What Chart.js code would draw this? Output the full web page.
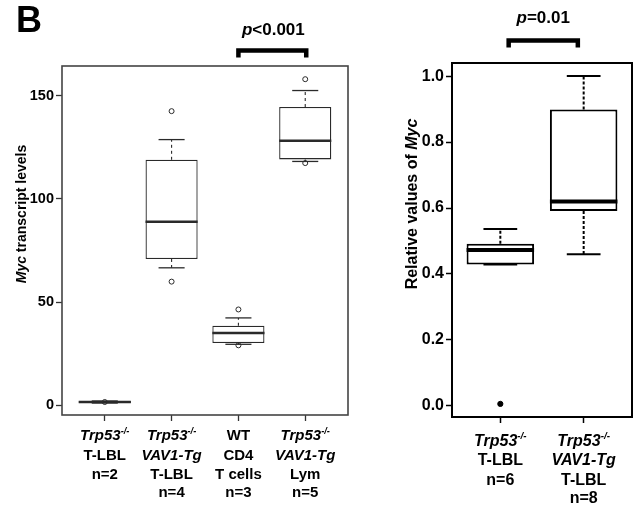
<!DOCTYPE html>
<html><head><meta charset="utf-8">
<script src="https://cdn.jsdelivr.net/npm/chart.js@4.4.1/dist/chart.umd.min.js"></script>
<style>
html,body{margin:0;padding:0;background:#fff;}
#wrap{position:relative;width:637px;height:506px;overflow:hidden;background:#fff;}
canvas{position:absolute;top:0;}
</style></head><body>
<div id="wrap">
<canvas id="c1" width="360" height="506" style="left:0px"></canvas>
<canvas id="c2" width="277" height="506" style="left:360px"></canvas>
</div>
<script>
// ---------- Left panel data (Myc transcript levels) ----------
// markup: _italic_  ^superscript^
const leftCategories = [
  ['_Trp53_^-/-^', 'T-LBL', 'n=2'],
  ['_Trp53_^-/-^', '_VAV1-Tg_', 'T-LBL', 'n=4'],
  ['WT', 'CD4', 'T cells', 'n=3'],
  ['_Trp53_^-/-^', '_VAV1-Tg_', 'Lym', 'n=5']
];
const leftPositions     = [1, 2, 3, 4];
const leftQ1            = [1.0, 70.9, 30.1, 119.2];
const leftMedian        = [1.5, 89.0, 35.0, 128.2];
const leftQ3            = [2.0, 119.0, 38.5, 144.6];
const leftWhiskerLow    = [1.0, 66.6, 29.5, 118.2];
const leftWhiskerHigh   = [2.0, 128.8, 42.3, 152.6];
const leftOutliers      = [[1.5], [142.6, 59.9], [46.4, 29.0], [158.1, 117.4]];
const leftYTicks        = [0, 50, 100, 150];
const leftYTitle        = ['_Myc_', ' transcript levels'];
const leftPText         = ['_p_', '<0.001'];

// ---------- Right panel data (Relative values of Myc) ----------
const rightCategories = [
  ['_Trp53_^-/-^', 'T-LBL', 'n=6'],
  ['_Trp53_^-/-^', '_VAV1-Tg_', 'T-LBL', 'n=8']
];
const rightPositions    = [1, 2];
const rightQ1           = [0.429, 0.591];
const rightMedian       = [0.473, 0.620];
const rightQ3           = [0.492, 0.899];
const rightWhiskerLow   = [0.429, 0.460];
const rightWhiskerHigh  = [0.536, 1.000];
const rightOutliers     = [[0.006], []];
const rightYTicks       = [0, 0.2, 0.4, 0.6, 0.8, 1.0];
const rightYTitle       = ['Relative values of ', '_Myc_'];
const rightPText        = ['_p_', '=0.01'];

const FONT = '"Liberation Sans", Arial, Helvetica, sans-serif';

function parseMarkup(str) {
  const segs = []; let cur = '', it = false, sup = false;
  for (const ch of str) {
    if (ch === '_' || ch === '^') {
      if (cur) segs.push({t: cur, it, sup}); cur = '';
      if (ch === '_') it = !it; else sup = !sup;
    } else cur += ch;
  }
  if (cur) segs.push({t: cur, it, sup});
  return segs;
}
function segFont(s, size) {
  const sz = s.sup ? size * 0.62 : size;
  return (s.it || s.sup ? 'italic ' : '') + 'bold ' + sz + 'px ' + FONT;
}
function drawRich(ctx, parts, cx, y, size, color) {
  let segs = [];
  parts.forEach(p => segs = segs.concat(parseMarkup(p)));
  let total = 0;
  segs.forEach(s => { ctx.font = segFont(s, size); s.w = ctx.measureText(s.t).width; total += s.w; });
  let x = cx - total / 2;
  ctx.fillStyle = color || '#000';
  ctx.textAlign = 'left';
  segs.forEach(s => {
    ctx.font = segFont(s, size);
    const dy = s.sup ? -size * 0.42 : 0;
    ctx.fillText(s.t, x, y + dy);
    x += s.w;
  });
}

function makeBoxPlugin(cfg) {
  return {
    id: 'boxDecor',
    afterDatasetDraw(chart, args) {
      if (args.index !== 0) return;
      const ctx = chart.ctx, xs = chart.scales.x, ys = chart.scales.y;
      const meta = chart.getDatasetMeta(0);
      ctx.save();
      ctx.strokeStyle = cfg.color;
      cfg.pos.forEach((p, i) => {
        const cx = xs.getPixelForValue(p);
        const w = meta.data[i].width;
        // median
        ctx.lineWidth = cfg.medianWidth; ctx.setLineDash([]);
        const ym = ys.getPixelForValue(cfg.median[i]);
        ctx.beginPath(); ctx.moveTo(cx - w / 2, ym); ctx.lineTo(cx + w / 2, ym); ctx.stroke();
        // whiskers (dashed)
        ctx.lineWidth = cfg.whiskerWidth; ctx.setLineDash(cfg.dash);
        const y1 = ys.getPixelForValue(cfg.q1[i]), y3 = ys.getPixelForValue(cfg.q3[i]);
        const yl = ys.getPixelForValue(cfg.wlo[i]), yh = ys.getPixelForValue(cfg.whi[i]);
        ctx.beginPath(); ctx.moveTo(cx, y3); ctx.lineTo(cx, yh); ctx.stroke();
        ctx.beginPath(); ctx.moveTo(cx, y1); ctx.lineTo(cx, yl); ctx.stroke();
        // caps
        ctx.setLineDash([]); ctx.lineWidth = cfg.capWidth;
        ctx.beginPath(); ctx.moveTo(cx - w / 4, yh); ctx.lineTo(cx + w / 4, yh); ctx.stroke();
        ctx.beginPath(); ctx.moveTo(cx - w / 4, yl); ctx.lineTo(cx + w / 4, yl); ctx.stroke();
      });
      ctx.restore();
    },
    afterDraw(chart) {
      const ctx = chart.ctx, a = chart.chartArea, xs = chart.scales.x;
      ctx.save();
      // frame
      ctx.strokeStyle = cfg.frameColor; ctx.lineWidth = cfg.frameWidth; ctx.setLineDash([]);
      ctx.strokeRect(a.left, a.top, a.right - a.left, a.bottom - a.top);
      // category labels
      ctx.textBaseline = 'alphabetic';
      cfg.cats.forEach((lines, i) => {
        const cx = xs.getPixelForValue(cfg.pos[i]);
        lines.forEach((ln, j) => drawRich(ctx, [ln], cx, cfg.labelBase + j * cfg.labelStep[j], cfg.labelSize));
      });
      // y title
      ctx.save();
      ctx.translate(cfg.yTitleX, cfg.yTitleY); ctx.rotate(-Math.PI / 2);
      ctx.textBaseline = 'middle';
      drawRich(ctx, cfg.yTitle, 0, 0, cfg.yTitleSize);
      ctx.restore();
      // significance bracket
      const bx1 = xs.getPixelForValue(cfg.br[0]), bx2 = xs.getPixelForValue(cfg.br[1]);
      ctx.strokeStyle = '#000'; ctx.lineWidth = 4.5; ctx.lineJoin = 'miter'; ctx.lineCap = 'butt';
      ctx.beginPath(); ctx.moveTo(bx1, cfg.brLeg); ctx.lineTo(bx1, cfg.brY); ctx.lineTo(bx2, cfg.brY); ctx.lineTo(bx2, cfg.brLeg); ctx.stroke();
      ctx.textBaseline = 'alphabetic';
      drawRich(ctx, cfg.pText, (bx1 + bx2) / 2 + cfg.pDx, cfg.pY, cfg.pSize);
      if (cfg.panelLetter) {
        ctx.font = 'bold 36px ' + FONT; ctx.fillStyle = '#000'; ctx.textAlign = 'left';
        ctx.fillText(cfg.panelLetter, 16, 32);
      }
      ctx.restore();
    }
  };
}

function outlierData(pos, outs) {
  const d = [];
  outs.forEach((arr, i) => arr.forEach(v => d.push({x: pos[i], y: v})));
  return d;
}

function makeChart(id, o) {
  return new Chart(document.getElementById(id), {
    type: 'bar',
    data: {
      datasets: [
        {
          type: 'bar', order: 2,
          data: o.pos.map((p, i) => ({x: p, y: [o.q1[i], o.q3[i]]})),
          backgroundColor: '#fff', borderColor: o.color, borderWidth: o.boxWidth,
          borderSkipped: false, barPercentage: o.barPct, categoryPercentage: 1.0
        },
        {
          type: 'scatter', order: 1,
          data: outlierData(o.pos, o.outs),
          pointRadius: o.ptRadius, pointBackgroundColor: o.ptFill, pointBorderColor: o.color,
          pointBorderWidth: 1, showLine: false
        }
      ]
    },
    options: {
      responsive: false, animation: false, devicePixelRatio: 1,
      layout: {padding: o.padding},
      plugins: {legend: {display: false}, tooltip: {enabled: false}},
      scales: {
        x: {
          type: 'linear', min: o.xmin, max: o.xmax, offset: false,
          afterBuildTicks: s => { s.ticks = o.pos.map(v => ({value: v})); },
          ticks: {callback: () => '', autoSkip: false, maxRotation: 0, padding: 0},
          grid: {drawOnChartArea: false, drawTicks: true, tickLength: 6, color: o.tickColor, tickWidth: o.tickWidth, offset: false},
          border: {display: false},
          afterFit: s => { s.height = o.xAxisH; }
        },
        y: {
          min: o.ymin, max: o.ymax,
          afterBuildTicks: s => { s.ticks = o.yticks.map(v => ({value: v})); },
          ticks: {color: '#000', font: {family: FONT, size: o.tickSize, weight: 'bold'}, padding: 2, callback: o.fmt},
          grid: {drawOnChartArea: false, drawTicks: true, tickLength: 6, color: o.tickColor, tickWidth: o.tickWidth},
          border: {display: false},
          afterFit: s => { s.width = o.yAxisW; }
        }
      }
    },
    plugins: [makeBoxPlugin(o.decor)]
  });
}

makeChart('c1', {
  pos: leftPositions, q1: leftQ1, q3: leftQ3, outs: leftOutliers, yticks: leftYTicks,
  color: '#2a2a2a', boxWidth: 1.3, barPct: 0.78, ptRadius: 2.5, ptFill: 'rgba(255,255,255,0)',
  padding: {top: 66, right: 12, bottom: 0, left: 0}, xAxisH: 91, yAxisW: 62,
  xmin: 0.36, xmax: 4.64, ymin: -4.8, ymax: 164.5, tickColor: '#333', tickWidth: 1.3, tickSize: 14.5,
  fmt: v => String(v),
  decor: {
    pos: leftPositions, q1: leftQ1, q3: leftQ3, median: leftMedian, wlo: leftWhiskerLow, whi: leftWhiskerHigh,
    color: '#2a2a2a', medianWidth: 2.5, whiskerWidth: 1.1, capWidth: 1.3, dash: [3, 3],
    frameColor: '#444', frameWidth: 1.6, cats: leftCategories,
    labelBase: 440, labelStep: [19.5, 19.5, 19.5, 19], labelSize: 15,
    yTitle: leftYTitle, yTitleX: 22, yTitleY: 214, yTitleSize: 14,
    br: [3, 4.015], brY: 50.5, brLeg: 57.5, pText: leftPText, pY: 35, pSize: 17, pDx: 1,
    panelLetter: 'B'
  }
});

makeChart('c2', {
  pos: rightPositions, q1: rightQ1, q3: rightQ3, outs: rightOutliers, yticks: rightYTicks,
  color: '#000', boxWidth: 2, barPct: 0.81, ptRadius: 2.6, ptFill: '#000',
  padding: {top: 63, right: 2, bottom: 0, left: 0}, xAxisH: 89, yAxisW: 92,
  xmin: 0.42, xmax: 2.58, ymin: -0.0338, ymax: 1.0398, tickColor: '#000', tickWidth: 1.5, tickSize: 16,
  fmt: v => Number(v).toFixed(1),
  decor: {
    pos: rightPositions, q1: rightQ1, q3: rightQ3, median: rightMedian, wlo: rightWhiskerLow, whi: rightWhiskerHigh,
    color: '#000', medianWidth: 4, whiskerWidth: 2, capWidth: 2, dash: [3, 2],
    frameColor: '#000', frameWidth: 2, cats: rightCategories,
    labelBase: 446, labelStep: [19.3, 19.3, 19.3, 19], labelSize: 16,
    yTitle: rightYTitle, yTitleX: 53, yTitleY: 204, yTitleSize: 16,
    br: [1.1, 1.93], brY: 40.5, brLeg: 47.5, pText: rightPText, pY: 23, pSize: 17, pDx: 0,
    panelLetter: null
  }
});
</script>
</body></html>
